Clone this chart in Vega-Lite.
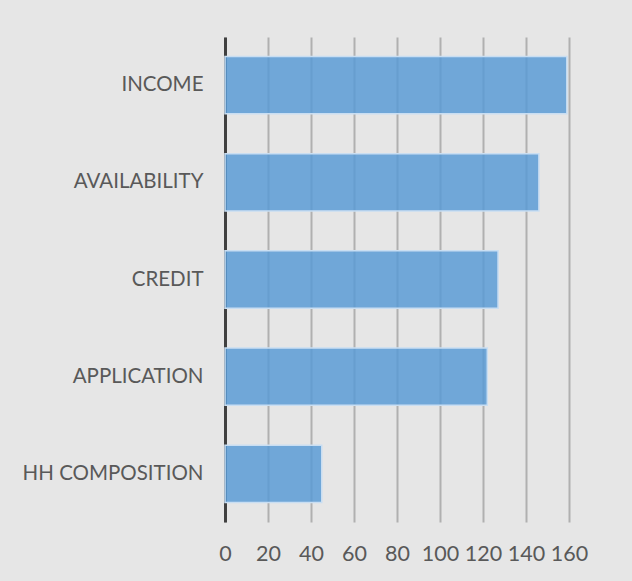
{
  "$schema": "https://vega.github.io/schema/vega-lite/v6.json",
  "width": 344,
  "height": 485,
  "autosize": "none",
  "padding": {"left": 225, "top": 37, "right": 63, "bottom": 59},
  "background": "#e6e6e6",
  "data": {
    "values": [
      {"category": "INCOME", "count": 159},
      {"category": "AVAILABILITY", "count": 146},
      {"category": "CREDIT", "count": 127},
      {"category": "APPLICATION", "count": 122},
      {"category": "HH COMPOSITION", "count": 45}
    ]
  },
  "mark": {
    "type": "bar",
    "fill": "#5b9bd5",
    "fillOpacity": 0.85,
    "stroke": "#c9def2",
    "strokeWidth": 1.5
  },
  "encoding": {
    "y": {
      "field": "category",
      "type": "nominal",
      "sort": null,
      "scale": {"paddingInner": 0.41, "paddingOuter": 0.2},
      "axis": {
        "title": null,
        "domainColor": "#404040",
        "domainWidth": 3,
        "ticks": false,
        "grid": false,
        "labelFont": "Lato",
        "labelFontSize": 20.5,
        "labelColor": "#595959",
        "labelPadding": 22,
        "labelLimit": 300
      }
    },
    "x": {
      "field": "count",
      "type": "quantitative",
      "scale": {"domain": [0, 160], "nice": false},
      "axis": {
        "title": null,
        "values": [0, 20, 40, 60, 80, 100, 120, 140, 160],
        "domain": false,
        "ticks": false,
        "grid": true,
        "gridColor": "#b0b0b0",
        "gridWidth": 2,
        "labelFont": "Lato",
        "labelFontSize": 21.5,
        "labelColor": "#595959",
        "labelPadding": 21,
        "labelFlush": false
      }
    }
  },
  "config": {"view": {"stroke": null}}
}
